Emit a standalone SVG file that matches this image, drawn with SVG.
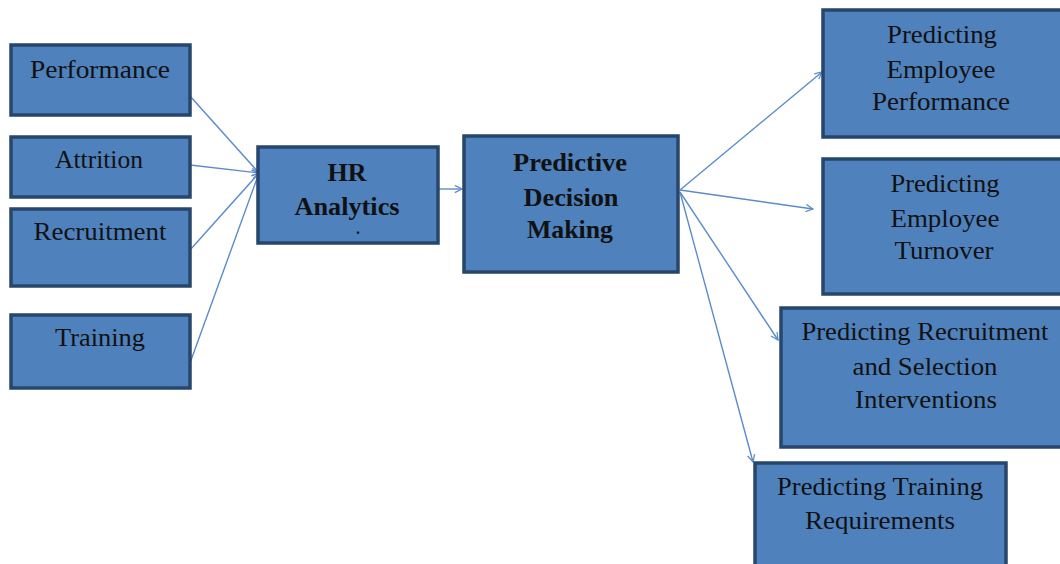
<svg xmlns="http://www.w3.org/2000/svg" width="1060" height="564" viewBox="0 0 1060 564">
<defs>
<style>
.box{fill:#4F81BD;stroke:#27466C;stroke-width:3.5}
.t{font-family:"Liberation Serif",serif;font-size:25px;fill:#111;text-anchor:middle}
.tr{font-family:"Liberation Serif",serif;font-size:26px;fill:#111;text-anchor:middle}
.b{font-family:"Liberation Serif",serif;font-size:25px;font-weight:bold;fill:#111;text-anchor:middle}
.c{stroke:#5B8CC8;stroke-width:1.4;fill:none}
</style>
<marker id="ah" viewBox="0 0 10 10" refX="9" refY="5" markerWidth="9" markerHeight="9" markerUnits="userSpaceOnUse" orient="auto">
<polyline points="1,1 9,5 1,9" fill="none" stroke="#5B8CC8" stroke-width="1.4"/>
</marker>
</defs>
<rect width="1060" height="564" fill="#fff"/>
<g id="connectors">
<line class="c" x1="190" y1="96" x2="259" y2="173" marker-end="url(#ah)"/>
<line class="c" x1="190" y1="165" x2="259" y2="173" marker-end="url(#ah)"/>
<line class="c" x1="190" y1="250" x2="259" y2="173" marker-end="url(#ah)"/>
<line class="c" x1="190" y1="363" x2="259" y2="173" marker-end="url(#ah)"/>
<line class="c" x1="439" y1="189" x2="462" y2="189" marker-end="url(#ah)"/>
<line class="c" x1="680" y1="190" x2="822" y2="72" marker-end="url(#ah)"/>
<line class="c" x1="680" y1="190" x2="813" y2="209" marker-end="url(#ah)"/>
<line class="c" x1="680" y1="192" x2="778" y2="340" marker-end="url(#ah)"/>
<line class="c" x1="680" y1="192" x2="753" y2="462" marker-end="url(#ah)"/>
</g>
<g id="performance"><rect class="box" x="11" y="45" width="179" height="70"/><text class="t" x="100" y="78" textLength="140" lengthAdjust="spacingAndGlyphs">Performance</text></g>
<g id="attrition"><rect class="box" x="11" y="137" width="179" height="60"/><text class="t" x="99" y="168" textLength="88" lengthAdjust="spacingAndGlyphs">Attrition</text></g>
<g id="recruitment"><rect class="box" x="11" y="209" width="179" height="77"/><text class="t" x="100" y="240" textLength="133" lengthAdjust="spacingAndGlyphs">Recruitment</text></g>
<g id="training"><rect class="box" x="11" y="315" width="179" height="73"/><text class="t" x="100" y="346" textLength="90" lengthAdjust="spacingAndGlyphs">Training</text></g>
<g id="hr-analytics"><rect class="box" x="258" y="147" width="180" height="96"/><text class="b" x="347" y="181" textLength="39" lengthAdjust="spacingAndGlyphs">HR</text><text class="b" x="347" y="215" textLength="105" lengthAdjust="spacingAndGlyphs">Analytics</text><text class="b" x="358" y="234" style="font-size:16px">.</text></g>
<g id="predictive-decision-making"><rect class="box" x="464" y="136" width="214" height="136"/><text class="b" x="570" y="171" textLength="114" lengthAdjust="spacingAndGlyphs">Predictive</text><text class="b" x="571" y="206" textLength="95" lengthAdjust="spacingAndGlyphs">Decision</text><text class="b" x="570" y="238" textLength="86" lengthAdjust="spacingAndGlyphs">Making</text></g>
<g id="pred-emp-performance"><rect class="box" x="823" y="10" width="240" height="127"/><text class="tr" x="942" y="43" textLength="110" lengthAdjust="spacingAndGlyphs">Predicting</text><text class="tr" x="941" y="78" textLength="109" lengthAdjust="spacingAndGlyphs">Employee</text><text class="tr" x="941" y="110" textLength="138" lengthAdjust="spacingAndGlyphs">Performance</text></g>
<g id="pred-emp-turnover"><rect class="box" x="823" y="159" width="240" height="135"/><text class="tr" x="945" y="192" textLength="109" lengthAdjust="spacingAndGlyphs">Predicting</text><text class="tr" x="945" y="227" textLength="109" lengthAdjust="spacingAndGlyphs">Employee</text><text class="tr" x="944" y="259" textLength="99" lengthAdjust="spacingAndGlyphs">Turnover</text></g>
<g id="pred-recruitment"><rect class="box" x="781" y="308" width="282" height="139"/><text class="tr" x="925" y="340" textLength="247" lengthAdjust="spacingAndGlyphs">Predicting Recruitment</text><text class="tr" x="925" y="375" textLength="145" lengthAdjust="spacingAndGlyphs">and Selection</text><text class="tr" x="926" y="408" textLength="142" lengthAdjust="spacingAndGlyphs">Interventions</text></g>
<g id="pred-training"><rect class="box" x="755" y="463" width="251" height="105"/><text class="tr" x="880" y="495" textLength="206" lengthAdjust="spacingAndGlyphs">Predicting Training</text><text class="tr" x="880" y="529" textLength="150" lengthAdjust="spacingAndGlyphs">Requirements</text></g>
</svg>
